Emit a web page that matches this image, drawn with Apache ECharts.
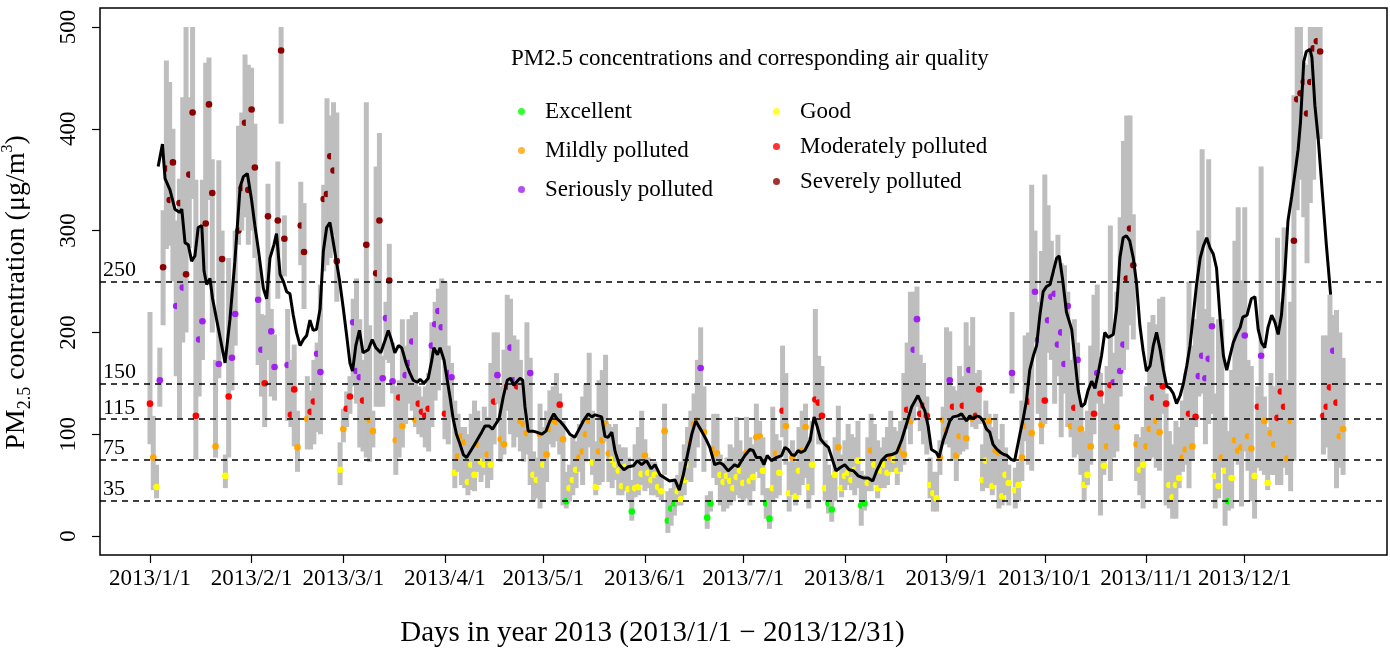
<!DOCTYPE html>
<html>
<head>
<meta charset="utf-8">
<title>PM2.5 2013</title>
<script src="https://cdn.jsdelivr.net/npm/echarts@6/dist/echarts.min.js"></script>
<style>
  html, body { margin: 0; padding: 0; background: #fff; }
  #chart { width: 1390px; height: 651px; }
</style>
</head>
<body>
<div id="chart"></div>
<script>
// daily mean / min / max, index = day of year (0 = 2013/1/1)
var dailyMean = [
  130,77,48,153,264,361,330,367,226,327,
  244,257,355,416,118,193,211,307,424,337,
  88,169,272,59,137,175,218,300,342,406,
  340,419,362,232,183,150,314,201,166,310,
  477,292,168,119,144,87,305,279,115,122,
  132,179,161,331,336,373,359,270,65,105,
  125,137,210,162,156,133,286,114,103,258,
  310,155,214,251,152,94,136,108,158,170,
  191,114,130,122,118,125,187,208,221,205,
  120,160,156,62,78,98,92,53,70,60,
  90,73,70,80,70,132,158,95,90,147,
  185,153,147,113,110,101,160,60,55,100,
  70,80,105,114,112,129,95,34,47,55,
  65,77,83,100,113,72,48,83,94,110,
  81,75,70,64,49,68,46,24,47,48,
  61,79,62,55,60,48,44,103,15,27,
  32,44,36,55,70,92,110,114,165,102,
  18,32,85,81,60,53,59,54,47,58,
  64,52,82,54,58,97,98,64,32,17,
  47,81,62,123,108,42,77,39,64,84,
  107,48,70,134,131,118,47,32,26,60,
  87,47,59,62,55,65,74,30,32,52,
  84,70,47,64,70,62,77,75,64,85,
  80,124,113,183,213,120,128,118,50,42,
  37,77,114,104,153,127,79,98,128,96,
  163,115,118,144,55,74,113,49,84,82,
  39,60,52,160,45,50,77,108,132,101,
  240,193,109,133,212,235,238,188,200,169,
  226,108,126,173,105,50,60,88,120,160,
  140,69,88,148,151,107,162,188,253,302,
  266,90,65,70,88,105,136,113,102,147,
  130,50,38,50,57,77,85,120,88,117,
  157,177,155,174,206,59,49,77,64,34,
  57,94,84,87,197,98,86,59,127,177,
  113,52,101,90,116,142,127,76,113,290,
  429,435,446,415,446,479,486,476,118,127,
  146,182,131,98,105
];
var dailyLow = [
  90,45,37,127,207,282,285,250,157,115,
  190,200,283,331,75,137,173,250,330,200,
  77,155,180,47,77,143,187,286,300,313,
  286,300,273,168,137,107,173,137,133,233,
  405,255,113,107,88,63,266,223,85,85,
  90,102,100,260,266,273,296,230,50,92,
  107,120,147,130,87,83,77,73,87,127,
  127,127,173,170,140,60,77,87,110,130,
  123,107,100,97,87,83,107,133,143,173,
  95,90,117,47,63,50,47,40,45,44,
  63,53,60,47,55,90,130,73,80,123,
  100,87,97,83,73,80,50,34,37,27,
  34,53,90,87,93,80,30,27,34,40,
  47,63,50,73,87,60,40,50,53,93,
  53,47,55,40,40,44,34,15,38,40,
  50,44,47,40,40,38,35,60,3,10,
  20,30,30,40,55,53,67,87,103,63,
  7,24,57,50,30,24,27,30,34,40,
  37,34,37,30,44,63,57,40,17,7,
  34,37,40,97,70,24,40,30,40,50,
  57,27,40,113,90,90,34,22,14,34,
  64,38,45,50,45,40,47,10,25,44,
  44,50,37,47,47,50,63,63,50,63,
  70,105,90,113,127,103,90,80,37,24,
  24,60,90,90,87,74,54,80,83,85,
  117,107,105,110,44,47,47,40,50,27,
  30,40,30,140,27,34,54,93,70,64,
  190,120,90,110,180,173,130,157,97,140,
  107,97,77,80,60,34,50,70,100,130,
  20,60,75,54,77,83,137,163,183,207,
  193,54,40,27,74,74,77,67,64,120,
  30,27,17,17,47,63,70,47,75,107,
  137,140,90,110,120,27,37,67,10,25,
  27,74,70,29,83,64,34,17,67,64,
  60,45,60,60,50,50,67,60,44,74,
  320,350,313,268,327,350,390,390,80,87,
  74,74,47,67,60
];
var dailyHigh = [
  220,118,70,185,320,467,446,400,310,351,
  431,500,431,500,350,305,350,465,470,370,
  173,369,300,80,273,231,300,403,416,473,
  463,460,405,273,218,217,346,223,198,368,
  500,315,223,173,188,123,348,327,157,143,
  173,190,247,345,430,413,426,416,92,125,
  142,157,233,253,213,173,426,207,123,363,
  396,177,230,287,190,147,153,213,187,213,
  217,220,147,137,147,160,210,230,243,253,
  250,187,170,133,120,107,107,100,120,133,
  123,113,127,117,170,200,200,147,183,237,
  233,197,193,173,140,210,175,83,77,130,
  107,123,143,147,160,140,113,63,70,97,
  93,110,137,150,180,123,93,153,163,178,
  110,107,110,90,87,87,77,55,90,107,
  123,95,77,73,73,60,60,130,44,47,
  54,60,73,90,107,123,140,173,205,147,
  40,44,120,120,80,73,77,90,87,117,
  94,83,117,97,90,130,113,97,47,47,
  127,100,94,187,160,73,94,73,107,123,
  130,97,113,223,177,167,94,70,60,97,
  128,80,94,110,100,97,113,64,60,97,
  120,110,94,87,97,107,123,107,103,113,
  160,190,240,240,245,178,170,137,77,63,
  63,94,127,205,201,147,143,167,157,210,
  187,215,160,163,90,133,120,107,120,95,
  110,87,70,220,67,73,133,197,200,345,
  300,230,280,355,325,290,260,296,268,266,
  240,173,213,190,130,103,123,187,237,247,
  160,130,167,305,180,240,313,388,413,413,
  316,100,97,107,147,210,217,208,233,235,
  140,103,90,113,107,133,160,250,187,213,
  300,380,223,370,215,140,213,213,117,103,
  163,290,323,251,323,173,167,74,147,363,
  137,107,160,147,293,230,303,153,230,433,
  500,500,465,463,500,500,500,500,197,197,
  237,217,222,200,175
];

// smoothed curve (black line)
var smoothDay = [
  2.5,3.8,4.6,6.1,7.6,9,9.7,10.7,11.7,12.7,13.7,14.7,15.8,16.5,17.3,18.3,19.1,22.9,24.4,25.9,
  27.5,28.5,29.7,31,32,33,34.6,35.6,36.6,37.8,38.6,39.7,40.7,41.7,42.7,43.7,44.7,45.8,46.8,47.8,
  48.8,49.8,50.8,51.9,52.9,53.9,54.9,55.7,56.7,57.8,59,60,61,61.8,62.8,63.9,65,66.6,67.8,68.9,
  70.4,71.7,72.7,73.7,74.7,75.8,76.8,78.1,79.3,80.3,81.6,82.4,83.6,84.9,86,86.6,87.7,88.5,89.7,90.7,
  91.7,92.5,93.5,94.6,95.6,96.6,98.1,99.6,101.2,102.2,103.5,104.5,105.5,106.5,107.8,109,110,111,112.3,112.9,
  113.7,114.4,115.4,116.9,117.9,119.5,120.8,122,123.2,124.2,125.3,126.6,128.1,129.6,130.6,132.2,133.7,134.8,135.8,136.8,
  137.8,138.8,139.8,140.9,141.9,143.2,144.6,145.9,147.5,148.7,150,151.5,152.9,154.1,155.6,157.1,158.5,160.2,161.5,162.7,
  164,165.3,166.5,168.3,169.8,170.8,172.3,173.9,174.9,176.4,177.4,178.4,179.4,180.5,181.5,183,184,185,186.3,187.3,
  188.3,189.6,191.1,192.7,193.7,194.7,195.7,196.7,197.7,198.6,199.8,201.4,202.6,203.6,204.6,205.9,207,208,209.3,210.5,
  212,213.3,214.6,216.1,217.6,219.1,220.5,221.7,223.2,224.7,226.3,227.8,229.3,230.8,232.4,234.3,236.4,237.4,238.4,239.9,
  240.7,242,243,244,245,246.5,247.6,249.1,250.1,251.1,252.1,253.2,254.2,255.2,256.2,257.2,258.4,259.5,260.5,261.5,
  262.8,263.8,265.4,266.4,267.4,268.4,269.5,270.5,271.5,272.5,273.5,274.6,275.6,276.6,277.4,278.4,279.6,281.2,282.2,283.2,
  284.2,285.2,286.2,287.3,288.3,289.3,290.3,291.3,292.3,293.9,294.9,295.9,296.9,297.9,298.9,300,301,302,303,304,
  305.1,306.1,307.1,308.2,309.2,310.2,311.2,312.2,313.2,314.3,315.3,316.3,317.3,318.3,319.3,320.4,321.4,322.4,323.4,324.4,
  325.4,326.5,327.5,328.5,329.5,330.5,331.5,332.6,333.4,334.7,336,337.1,338.1,339.1,340.1,341.1,342.2,343.2,344.2,345.2,
  346.2,347.2,348.3,349.3,350.3,351,352,352.8,353.9,354.5,355.4,356.4,357.7,358.9,360.2
];
var smoothVal = [
  363,385,351,340,321,318,321,288,286,270,275,303,305,260,247,253,233,170,213,270,
  343,353,356,330,305,283,243,233,273,286,297,257,250,240,238,217,200,187,193,197,
  212,202,203,223,280,303,308,293,273,252,223,197,170,162,187,202,180,183,193,185,
  180,192,202,192,180,187,185,170,160,153,151,154,150,155,173,185,178,185,173,153,
  133,115,100,90,80,77,85,93,102,108,108,105,110,115,137,153,155,148,153,155,
  153,127,103,103,102,100,103,113,120,115,112,107,100,97,103,113,120,117,119,118,
  117,98,97,102,83,70,65,68,69,74,70,74,66,70,60,57,54,55,45,60,
  80,100,113,103,94,87,70,72,70,64,67,70,68,74,79,85,84,77,77,70,
  79,74,77,79,87,85,80,79,84,82,84,94,117,107,95,90,87,77,64,67,
  70,65,64,59,57,57,54,64,74,79,80,82,94,110,127,138,123,108,85,82,
  77,94,103,113,117,118,120,113,118,115,118,117,113,105,102,90,85,82,80,79,
  75,74,100,115,133,163,177,187,217,240,245,247,260,273,275,253,220,203,173,143,
  127,130,143,152,145,160,177,200,195,198,223,273,293,295,290,273,248,207,182,162,
  167,187,200,183,163,147,145,140,130,138,150,167,187,217,247,273,285,293,283,277,
  263,213,177,163,177,190,198,205,215,217,233,235,203,190,185,205,217,210,198,217,
  257,310,333,356,380,406,466,476,478,470,423,391,336,286,237
];

var thresholds = [35, 75, 115, 150, 250];
var monthStart = [0, 31, 59, 90, 120, 151, 181, 212, 243, 273, 304, 334];
var monthLabels = ['2013/1/1', '2013/2/1', '2013/3/1', '2013/4/1', '2013/5/1', '2013/6/1',
  '2013/7/1', '2013/8/1', '2013/9/1', '2013/10/1', '2013/11/1', '2013/12/1'];
var yTicks = [0, 100, 200, 300, 400, 500];

var levelNames = ['Excellent', 'Good', 'Mildly polluted', 'Moderately polluted', 'Seriously polluted', 'Severely polluted'];
var levelColors = ['#00FF00', '#FFFF00', '#FFA500', '#FF0000', '#A020F0', '#8B0000'];
var levelTop = [35, 75, 115, 150, 250];

var FONT = 'Liberation Serif, DejaVu Serif, serif';

function levelColor (v) {
  for (var i = 0; i < levelTop.length; i++) {
    if (v <= levelTop[i]) return levelColors[i];
  }
  return levelColors[5];
}

var dayData = [];
for (var i = 0; i < dailyMean.length; i++) {
  dayData.push([i, dailyLow[i], dailyHigh[i], dailyMean[i]]);
}
var smoothData = [];
for (var j = 0; j < smoothDay.length; j++) {
  smoothData.push([smoothDay[j], smoothVal[j]]);
}

var myChart = echarts.init(document.getElementById('chart'));

var series = [
  {
    name: 'daily',
    type: 'custom',
    data: dayData,
    encode: { x: 0, y: [1, 2, 3] },
    silent: true,
    z: 2,
    renderItem: function (params, api) {
      var d = api.value(0);
      var top = api.coord([d, api.value(2)]);
      var bot = api.coord([d, api.value(1)]);
      var mid = api.coord([d, api.value(3)]);
      return {
        type: 'group',
        children: [
          {
            type: 'rect',
            shape: { x: top[0] - 2.5, y: top[1], width: 5, height: bot[1] - top[1] },
            style: { fill: '#BEBEBE' }
          },
          {
            type: 'circle',
            shape: { cx: mid[0], cy: mid[1], r: 3.3 },
            style: { fill: levelColor(api.value(3)) }
          }
        ]
      };
    }
  },
  {
    name: 'smooth',
    type: 'line',
    data: smoothData,
    showSymbol: false,
    symbol: 'none',
    silent: true,
    z: 4,
    lineStyle: { color: '#000', width: 3 },
    markLine: {
      silent: true,
      symbol: 'none',
      animation: false,
      lineStyle: { type: [6, 5], color: '#000', width: 1.5 },
      label: {
        position: 'insideStartTop',
        formatter: '{c}',
        color: '#000',
        fontFamily: FONT,
        fontSize: 22,
        distance: [3, 0]
      },
      data: thresholds.map(function (v) { return { yAxis: v }; })
    }
  }
];
// legend-only series
levelNames.forEach(function (n, k) {
  series.push({ name: n, type: 'scatter', data: [], itemStyle: { color: levelColors[k] } });
});

myChart.setOption({
  animation: false,
  title: {
    text: 'PM2.5 concentrations and corresponding air quality',
    left: 506,
    top: 42,
    textStyle: { fontFamily: FONT, fontSize: 23, fontWeight: 'normal', color: '#000' }
  },
  legend: [
    {
      data: ['Excellent', 'Mildly polluted', 'Seriously polluted'],
      orient: 'vertical',
      left: 513,
      top: 95,
      itemGap: 16,
      itemWidth: 7,
      itemHeight: 7,
      icon: 'circle',
      selectedMode: false,
      textStyle: { fontFamily: FONT, fontSize: 23, color: '#000', padding: [0, 0, 0, 15] }
    },
    {
      data: ['Good', 'Moderately polluted', 'Severely polluted'],
      orient: 'vertical',
      left: 768,
      top: 95,
      itemGap: 12,
      itemWidth: 7,
      itemHeight: 7,
      icon: 'circle',
      selectedMode: false,
      textStyle: { fontFamily: FONT, fontSize: 23, color: '#000', padding: [0, 0, 0, 15] }
    }
  ],
  grid: {
    left: 100,
    right: 3,
    top: 8,
    bottom: 96,
    containLabel: false,
    outerBoundsMode: 'none',
    show: true,
    borderColor: '#000',
    borderWidth: 1.5
  },
  xAxis: {
    type: 'value',
    min: -15.25,
    max: 377.4,
    splitLine: { show: false },
    axisLine: { show: false, onZero: false },
    axisTick: { show: true, length: 8, lineStyle: { color: '#000', width: 1.2 }, customValues: monthStart },
    axisLabel: {
      customValues: monthStart,
      formatter: function (v) { return monthLabels[monthStart.indexOf(v)]; },
      fontFamily: FONT,
      fontSize: 23,
      color: '#000',
      margin: 12
    },
    name: 'Days in year 2013 (2013/1/1 \u2212 2013/12/31)',
    nameLocation: 'middle',
    nameGap: 64,
    nameTextStyle: { fontFamily: FONT, fontSize: 29, color: '#000', padding: [0, 182, 0, 0] }
  },
  yAxis: {
    type: 'value',
    min: -18.7,
    max: 518.7,
    splitLine: { show: false },
    axisLine: { show: false, onZero: false },
    axisTick: { show: true, length: 8, lineStyle: { color: '#000', width: 1.2 }, customValues: yTicks },
    axisLabel: {
      customValues: yTicks,
      rotate: 90,
      fontFamily: FONT,
      fontSize: 23,
      color: '#000',
      margin: 20
    },
    name: '{a|PM}{s|2.5}{a| concentration (\u03bcg/m}{p|3}{a|)}',
    nameLocation: 'middle',
    nameRotate: 90,
    nameGap: 66,
    nameTextStyle: {
      color: '#000',
      padding: [0, 22, 0, 0],
      rich: {
        a: { fontFamily: FONT, fontSize: 28, color: '#000', lineHeight: 34 },
        s: { fontFamily: FONT, fontSize: 18, color: '#000', verticalAlign: 'bottom' },
        p: { fontFamily: FONT, fontSize: 16, color: '#000', verticalAlign: 'top' }
      }
    }
  },
  series: series
});
</script>
</body>
</html>
